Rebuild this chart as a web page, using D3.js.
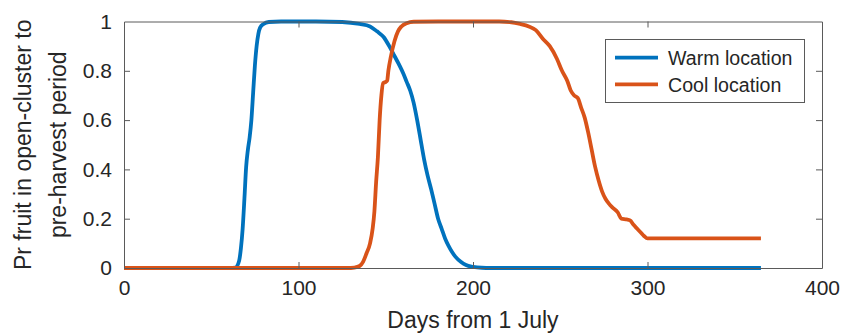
<!DOCTYPE html>
<html>
<head>
<meta charset="utf-8">
<script src="https://cdn.jsdelivr.net/npm/d3@7"></script>
<style>
  html, body { margin: 0; padding: 0; background: #fff; }
  svg { display: block; font-family: "Liberation Sans", Arial, Helvetica, sans-serif; }
</style>
</head>
<body>
<svg id="chart" width="842" height="333"></svg>
<script>
// Probability that fruit is in the open-cluster to pre-harvest period, by day from 1 July
const warmDays = [0, 60, 64, 66, 67, 68, 69, 70, 71, 72, 73, 74, 75, 76, 77, 78, 80, 83, 90, 110, 125, 135, 141, 145, 149, 152, 155, 158, 160, 162, 164, 166, 168, 170, 172, 174, 176, 178, 180, 182, 184, 186, 188, 190, 193, 196, 200, 205, 210, 365];
const warmValues = [0, 0, 0.002, 0.03, 0.08, 0.16, 0.28, 0.41, 0.48, 0.53, 0.6, 0.71, 0.82, 0.9, 0.95, 0.975, 0.99, 0.998, 1, 1, 0.998, 0.99, 0.98, 0.96, 0.935, 0.9, 0.86, 0.82, 0.79, 0.755, 0.72, 0.67, 0.6, 0.52, 0.44, 0.375, 0.32, 0.26, 0.2, 0.16, 0.12, 0.09, 0.065, 0.045, 0.025, 0.012, 0.005, 0.001, 0, 0];

const coolDays = [0, 128, 132, 135, 137, 139, 141, 142.5, 143.5, 144.5, 145.5, 146.5, 147.5, 148.5, 150, 150.8, 151.5, 153, 155, 157, 159, 162, 166, 180, 215, 222, 227, 232, 236, 240, 244, 248, 251, 254, 256, 258, 260, 262, 264, 266, 268, 270, 272, 274, 276, 278, 280, 283, 285, 288, 290, 292, 294, 296, 298, 300, 365];
const coolValues = [0, 0, 0.002, 0.008, 0.025, 0.06, 0.1, 0.16, 0.23, 0.35, 0.45, 0.6, 0.7, 0.75, 0.755, 0.76, 0.8, 0.86, 0.92, 0.96, 0.98, 0.993, 0.999, 1, 1, 0.997, 0.99, 0.98, 0.965, 0.93, 0.9, 0.85, 0.8, 0.76, 0.72, 0.7, 0.69, 0.65, 0.61, 0.55, 0.48, 0.41, 0.355, 0.31, 0.28, 0.26, 0.245, 0.225, 0.2, 0.197, 0.193, 0.175, 0.16, 0.145, 0.13, 0.12, 0.12];

const seriesNames = ["Warm location", "Cool location"];
const seriesColors = ["#0072BD", "#D95319"];

const xTicks = [0, 100, 200, 300, 400];
const yTicks = [0, 0.2, 0.4, 0.6, 0.8, 1];
const yTickLabels = ["0", "0.2", "0.4", "0.6", "0.8", "1"];

const xLabel = "Days from 1 July";
const yLabelLines = ["Pr fruit in open-cluster to", "pre-harvest period"];

const series = [
  { name: seriesNames[0], color: seriesColors[0], points: warmDays.map((d, i) => [d, warmValues[i]]) },
  { name: seriesNames[1], color: seriesColors[1], points: coolDays.map((d, i) => [d, coolValues[i]]) }
];

const svg = d3.select("#chart");
const plot = { left: 124, right: 822, top: 21.5, bottom: 268 };
const textColor = "#262626";
const axisColor = "#5a5a5a";

const x = d3.scaleLinear().domain([0, 400]).range([plot.left, plot.right]);
const y = d3.scaleLinear().domain([0, 1]).range([plot.bottom, plot.top]);

// Data lines
const line = d3.line().x(d => x(d[0])).y(d => y(d[1])).curve(d3.curveMonotoneX);
svg.append("g").selectAll("path").data(series).join("path")
  .attr("d", d => line(d.points))
  .attr("fill", "none")
  .attr("stroke", d => d.color)
  .attr("stroke-width", 3.8)
  .attr("stroke-linejoin", "round");

// Axes with inward ticks on all four sides (boxed axes)
const tickLen = 6;
const bottomAxis = d3.axisBottom(x).tickValues(xTicks).tickSizeInner(-tickLen).tickSizeOuter(0).tickPadding(12).tickFormat(d3.format("d"));
const topAxis = d3.axisTop(x).tickValues(xTicks).tickSizeInner(-tickLen).tickSizeOuter(0).tickFormat("");
const leftAxis = d3.axisLeft(y).tickValues(yTicks).tickSizeInner(-tickLen).tickSizeOuter(0).tickPadding(12).tickFormat((d, i) => yTickLabels[i]);
const rightAxis = d3.axisRight(y).tickValues(yTicks).tickSizeInner(-tickLen).tickSizeOuter(0).tickFormat("");

function styleAxis(g) {
  g.selectAll(".domain").attr("stroke", axisColor).attr("stroke-width", 1);
  g.selectAll(".tick line").attr("stroke", axisColor).attr("stroke-width", 1);
  g.selectAll(".tick text").attr("fill", textColor).attr("font-size", 21)
    .attr("font-family", "'Liberation Sans', Arial, sans-serif");
}

svg.append("g").attr("transform", `translate(0,${plot.bottom})`).call(bottomAxis).call(styleAxis);
svg.append("g").attr("transform", `translate(0,${plot.top})`).call(topAxis).call(styleAxis);
svg.append("g").attr("transform", `translate(${plot.left},0)`).call(leftAxis).call(styleAxis);
svg.append("g").attr("transform", `translate(${plot.right},0)`).call(rightAxis).call(styleAxis);

// Hide end ticks that coincide with the box edges
svg.selectAll(".tick").filter(d => d === 0 || d === 400 || d === 1).select("line").attr("stroke-opacity", 0);

// Axis titles
svg.append("text")
  .attr("x", (plot.left + plot.right) / 2)
  .attr("y", 328)
  .attr("text-anchor", "middle")
  .attr("fill", textColor)
  .attr("font-size", 23)
  .text(xLabel);

const yLab = svg.append("text")
  .attr("transform", `translate(0,${(plot.top + plot.bottom) / 2}) rotate(-90)`)
  .attr("text-anchor", "middle")
  .attr("fill", textColor)
  .attr("font-size", 23);
yLab.selectAll("tspan").data(yLabelLines).join("tspan")
  .attr("x", 0)
  .attr("y", (d, i) => 31 + i * 35)
  .text(d => d);

// Legend
const legend = svg.append("g");
legend.append("rect")
  .attr("x", 605.5).attr("y", 39.5)
  .attr("width", 199).attr("height", 63)
  .attr("fill", "#fff")
  .attr("stroke", axisColor)
  .attr("stroke-width", 1);
const rows = legend.selectAll("g.row").data(series).join("g")
  .attr("class", "row")
  .attr("transform", (d, i) => `translate(0,${57.7 + i * 26.6})`);
rows.append("line")
  .attr("x1", 615).attr("x2", 658)
  .attr("y1", 0).attr("y2", 0)
  .attr("stroke", d => d.color)
  .attr("stroke-width", 3.8);
rows.append("text")
  .attr("x", 668).attr("y", 7.5)
  .attr("fill", textColor)
  .attr("font-size", 19.6)
  .text(d => d.name);
</script>
</body>
</html>
